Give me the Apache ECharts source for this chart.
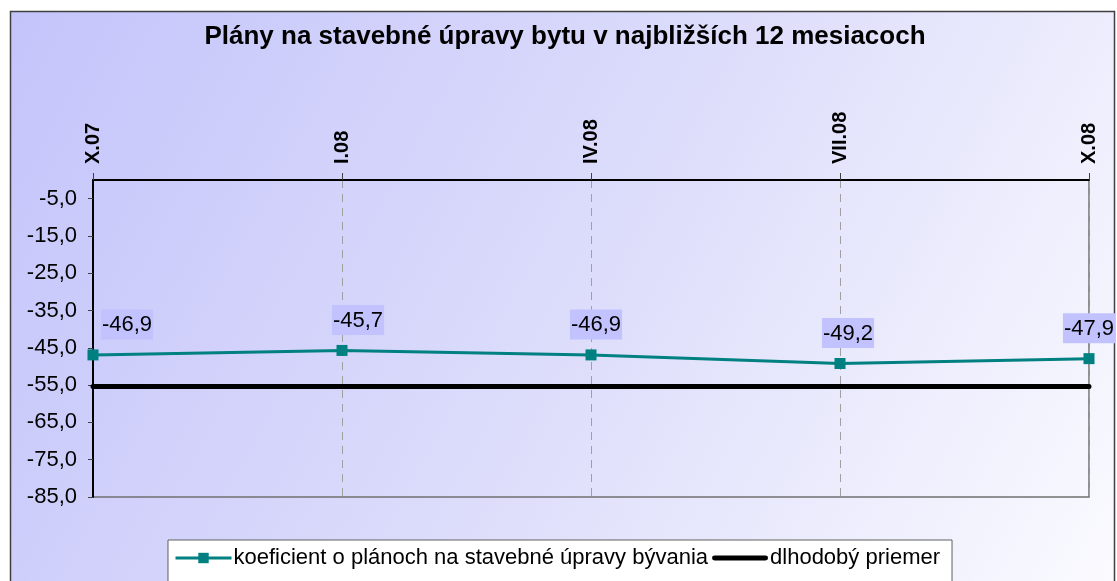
<!DOCTYPE html>
<html>
<head>
<meta charset="utf-8">
<script src="https://cdn.jsdelivr.net/npm/echarts@6/dist/echarts.min.js"></script>
<style>
  html, body { margin: 0; padding: 0; background: #fff; }
  #chart { width: 1117px; height: 581px; }
</style>
</head>
<body>
<div id="chart"></div>
<script>
const categories = ["X.07", "I.08", "IV.08", "VII.08", "X.08"];
const planValues = [-46.9, -45.7, -46.9, -49.2, -47.9];
const longAvg = [-55.4, -55.4, -55.4, -55.4, -55.4];
const yTicks = [-85, -75, -65, -55, -45, -35, -25, -15, -5];

const fmt = (v) => v.toFixed(1).replace(".", ",");
const font = "Liberation Sans, Arial, sans-serif";
// horizontal nudges of the data labels, as Excel placed them
const labelDx = [34, 16, 5, 8, 0];

const chart = echarts.init(document.getElementById("chart"));

chart.setOption({
  animation: false,
  graphic: [
    {
      type: "rect",
      z: -10,
      shape: { x: 10.5, y: 11.5, width: 1104, height: 600 },
      style: {
        fill: new echarts.graphic.LinearGradient(0, 0, 1, 1, [
          { offset: 0, color: "#c4c4fb" },
          { offset: 0.5, color: "#dcdcfb" },
          { offset: 1, color: "#fbfbff" },
        ]),
        stroke: "#404040",
        lineWidth: 1.5,
      },
    },
  ],
  title: {
    text: "Plány na stavebné úpravy bytu v najbližších 12 mesiacoch",
    left: 560,
    textAlign: "center",
    top: 19,
    textStyle: {
      fontFamily: font,
      fontWeight: "bold",
      fontSize: 26,
      color: "#000",
    },
  },
  legend: {
    left: 168,
    top: 540,
    padding: [7, 12, 14, 6],
    itemWidth: 56,
    itemHeight: 13,
    itemGap: 4,
    backgroundColor: "#fff",
    borderColor: "#606060",
    borderWidth: 1,
    borderRadius: 0,
    textStyle: { fontFamily: font, fontSize: 22, color: "#000", padding: [0, 0, 0, -3] },
    data: [
      {
        name: "koeficient o plánoch na stavebné úpravy bývania",
        lineStyle: { width: 3 },
      },
      {
        name: "dlhodobý priemer",
        icon: "path://M2,0H54A2,2 0 0 1 54,5H2A2,2 0 0 1 2,0Z",
        itemStyle: { color: "#000" },
      },
    ],
  },
  grid: {
    left: 93,
    right: 28,
    top: 180,
    bottom: 84,
    show: true,
    borderColor: "#707070",
    borderWidth: 1.5,
    backgroundColor: "transparent",
  },
  xAxis: {
    type: "category",
    position: "top",
    boundaryGap: false,
    data: categories,
    axisLine: { lineStyle: { color: "#000", width: 2 } },
    axisTick: { show: true, length: 7, lineStyle: { color: "#404040", width: 1 } },
    axisLabel: {
      rotate: 90,
      margin: 16,
      fontFamily: font,
      fontWeight: "bold",
      fontSize: 20,
      color: "#000",
    },
    splitLine: {
      show: true,
      lineStyle: { color: "#a0a0a0", type: [8, 6], width: 1 },
    },
  },
  yAxis: {
    type: "value",
    min: -85,
    max: 0,
    axisLine: { show: true, lineStyle: { color: "#000", width: 2 } },
    axisTick: {
      show: true,
      length: 5,
      customValues: yTicks,
      lineStyle: { color: "#404040" },
    },
    axisLabel: {
      customValues: yTicks,
      formatter: fmt,
      margin: 16,
      fontFamily: font,
      fontSize: 22,
      color: "#000",
    },
    splitLine: { show: false },
  },
  series: [
    {
      name: "koeficient o plánoch na stavebné úpravy bývania",
      type: "line",
      data: planValues,
      symbol: "rect",
      symbolSize: 11,
      lineStyle: { color: "#008080", width: 3 },
      itemStyle: { color: "#008080" },
      z: 3,
      label: {
        show: true,
        position: "top",
        distance: 10,
        formatter: (p) => fmt(p.value),
        fontFamily: font,
        fontSize: 22,
        color: "#000",
        backgroundColor: "#c2c2ff",
        padding: [5, 1, 3, 1],
      },
      labelLayout: (params) => ({ dx: labelDx[params.dataIndex] }),
    },
    {
      name: "dlhodobý priemer",
      type: "line",
      data: longAvg,
      symbol: "none",
      lineStyle: { color: "#000", width: 5, cap: "round" },
      itemStyle: { color: "#000" },
      z: 2,
    },
  ],
});
</script>
</body>
</html>
